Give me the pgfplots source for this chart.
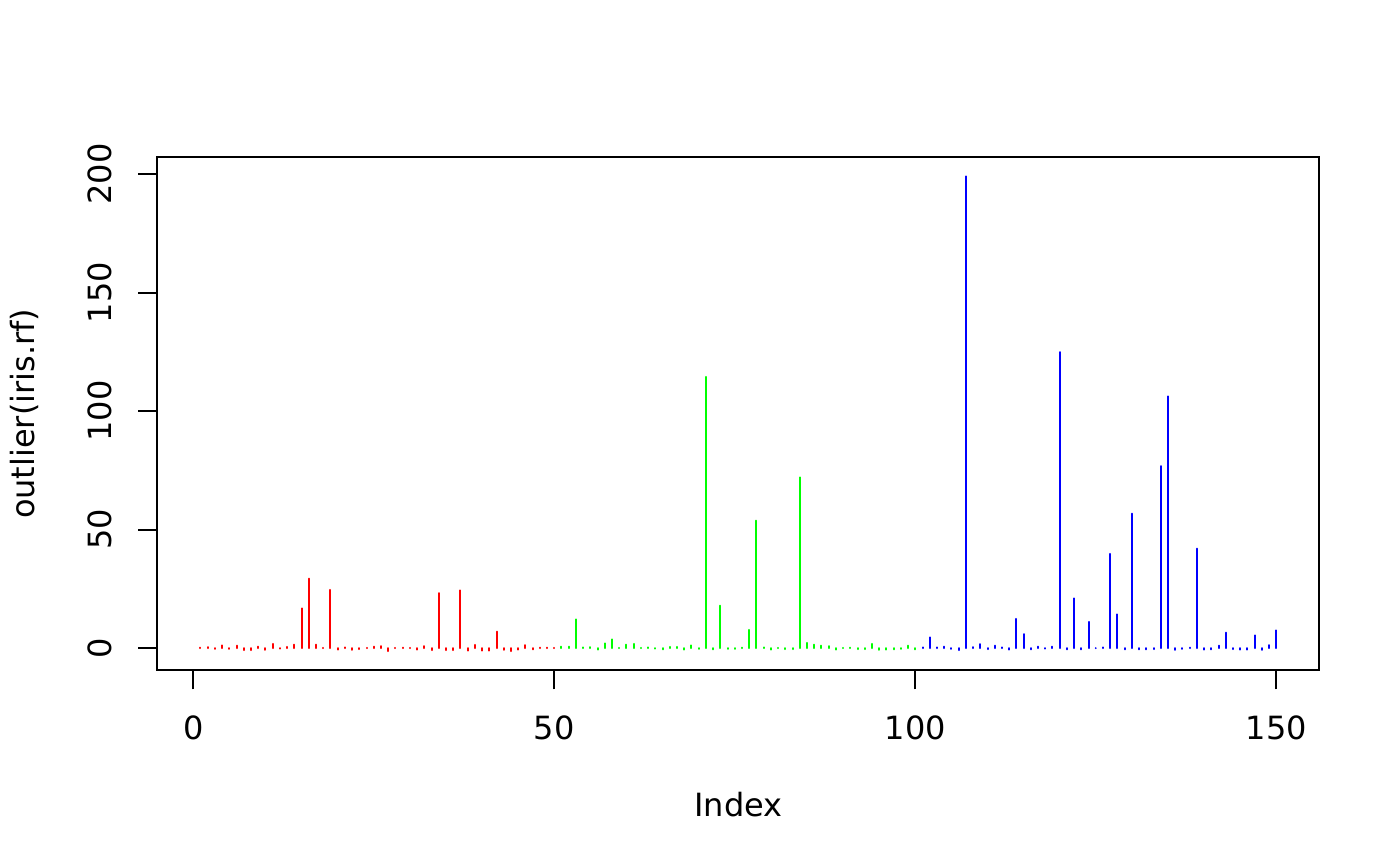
\documentclass[border=0pt]{standalone}
\usepackage{fontspec}
\setmainfont{DejaVu Sans}
\usepackage{pgfplots}
\pgfplotsset{compat=1.18}
\begin{document}
\fontsize{12}{14.4}\selectfont
\begin{tikzpicture}
\useasboundingbox (0,0) rectangle (525pt,324.75pt);
\begin{axis}[
  at={(59.04pt,73.44pt)}, anchor=south west,
  width=435.72pt, height=192.27pt, scale only axis,
  xmin=-4.96, xmax=155.96, ymin=-9.31, ymax=207.0,
  xtick={0,50,100,150}, ytick={0,50,100,150,200},
  minor tick num=0,
  tick align=outside, xtick pos=bottom, ytick pos=left,
  major tick length=7.2pt,
  axis line style={line width=0.75pt, black},
  every tick/.style={line width=0.75pt, black},
  /pgf/number format/assume math mode=true,
  ticklabel style={font=\fontsize{12}{14.4}\selectfont},
  xticklabel style={anchor=base, inner sep=0pt, yshift=-18.72pt},
  yticklabel style={xshift=-10.08pt, rotate=90, anchor=base, inner sep=0pt},
  xlabel={Index}, ylabel={outlier(iris.rf)},
  label style={font=\fontsize{12}{14.4}\selectfont},
  xlabel style={at={([yshift=-54.72pt]axis description cs:0.5,0)}, anchor=base, inner sep=0pt},
  ylabel style={at={([xshift=-46.08pt]axis description cs:0,0.5)}, anchor=base, inner sep=0pt},
]
\addplot[ycomb, red, line width=0.75pt, line cap=round, no marks] coordinates {
(1,0.2) (2,0.4) (3,-0.3) (4,1.2) (5,-0.3) (6,1.0) (7,-0.9) (8,-0.9) (9,0.6) (10,-0.7)
(11,1.8) (12,-0.2) (13,0.5) (14,1.5) (15,16.8) (16,29.3) (17,1.5) (18,0.1) (19,24.6) (20,-0.6)
(21,0.3) (22,-0.7) (23,-0.4) (24,0.1) (25,0.6) (26,0.8) (27,-1.3) (28,0.1) (29,0.2) (30,0.1)
(31,-0.6) (32,0.8) (33,-0.9) (34,23.2) (35,-0.9) (36,-0.9) (37,24.4) (38,-1.1) (39,1.4) (40,-1.1)
(41,-1.1) (42,7.0) (43,-0.7) (44,-1.3) (45,-0.6) (46,1.3) (47,-0.5) (48,0.2) (49,0.2) (50,0.1)
};
\addplot[ycomb, green, line width=0.75pt, line cap=round, no marks] coordinates {
(51,0.6) (52,0.6) (53,12.1) (54,0.3) (55,0.4) (56,-0.6) (57,2.0) (58,3.7) (59,0.1) (60,1.5)
(61,1.8) (62,0.1) (63,0.3) (64,-0.2) (65,-0.5) (66,0.5) (67,0.5) (68,-0.6) (69,1.2) (70,-0.3)
(71,114.4) (72,-0.5) (73,17.9) (74,-0.3) (75,-0.3) (76,0.2) (77,7.7) (78,53.8) (79,0.3) (80,-0.6)
(81,0.1) (82,-0.4) (83,-0.4) (84,72.0) (85,2.2) (86,1.5) (87,1.0) (88,0.8) (89,-0.6) (90,0.1)
(91,0.2) (92,-0.4) (93,-0.4) (94,1.8) (95,-0.7) (96,-0.6) (97,-0.5) (98,-0.3) (99,1.0) (100,-0.5)
};
\addplot[ycomb, blue, line width=0.75pt, line cap=round, no marks] coordinates {
(101,0.3) (102,4.5) (103,0.3) (104,0.6) (105,-0.3) (106,-0.9) (107,199.0) (108,0.4) (109,1.7) (110,-0.4)
(111,1.0) (112,0.3) (113,-0.6) (114,12.3) (115,5.9) (116,-0.5) (117,0.6) (118,-0.2) (119,0.6) (120,124.9)
(121,-0.5) (122,21.0) (123,-0.5) (124,11.1) (125,0.0) (126,0.3) (127,39.8) (128,14.2) (129,-0.5) (130,56.7)
(131,-0.5) (132,-0.5) (133,-0.4) (134,76.8) (135,106.2) (136,-0.8) (137,-0.3) (138,0.2) (139,42.0) (140,-0.6)
(141,-0.5) (142,1.0) (143,6.5) (144,-0.4) (145,-0.6) (146,-0.6) (147,5.4) (148,-0.8) (149,1.3) (150,7.5)
};
\end{axis}
\end{tikzpicture}
\end{document}
